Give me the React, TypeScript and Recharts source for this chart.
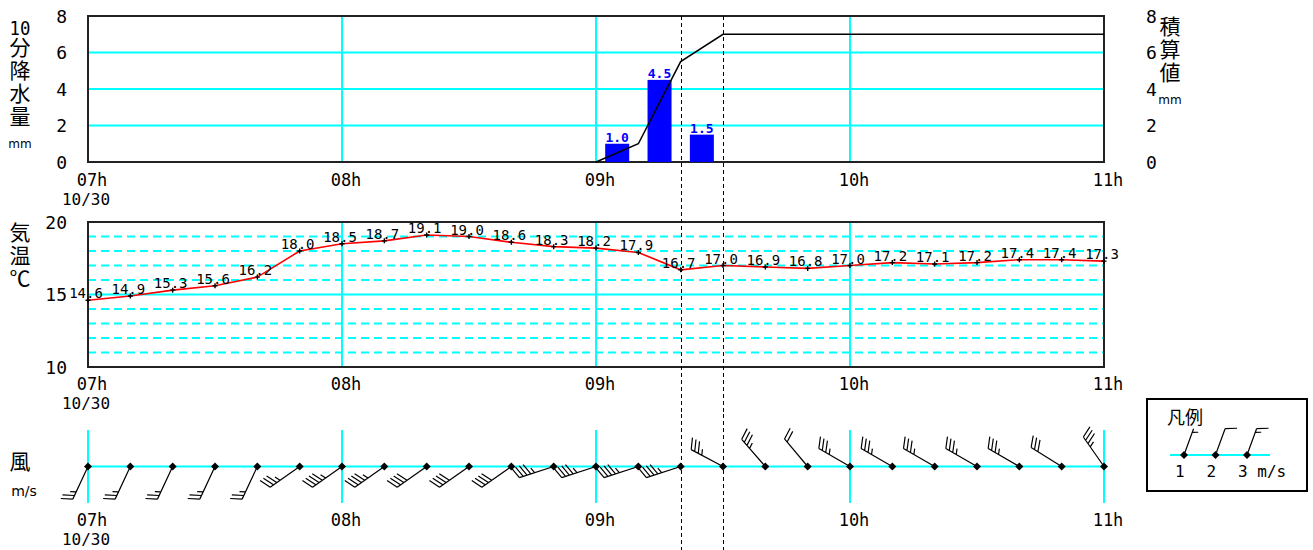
import React from 'react';
import {
  ComposedChart,
  Bar,
  Line,
  Scatter,
  XAxis,
  YAxis,
  CartesianGrid,
  ReferenceLine,
  ReferenceArea,
  LabelList,
} from 'recharts';

const MONO = '"DejaVu Sans Mono", monospace';
const SANS = '"DejaVu Sans", sans-serif';
const JP = '"Noto Sans CJK JP", sans-serif';
const CYAN = '#00ffff';

// time axis: minutes after 07:00
const hourTicks = [0, 60, 120, 180, 240];
const hourLabels = ['07h', '08h', '09h', '10h', '11h'];
const dateLabel = '10/30';
const times = [0, 10, 20, 30, 40, 50, 60, 70, 80, 90, 100, 110, 120, 130, 140, 150, 160, 170, 180, 190, 200, 210, 220, 230, 240];
const markTimes = [140, 150];

// 10-minute precipitation (drawn mid-interval) and accumulated total
const rainTimes = [125, 135, 145];
const rainValues = [1.0, 4.5, 1.5];
const cumulTimes = [120, 130, 140, 150, 160, 170, 180, 190, 200, 210, 220, 230, 240];
const cumulValues = [0, 1.0, 5.5, 7.0, 7.0, 7.0, 7.0, 7.0, 7.0, 7.0, 7.0, 7.0, 7.0];
const rainTicks = [0, 2, 4, 6, 8];

// temperature
const temps = [14.6, 14.9, 15.3, 15.6, 16.2, 18.0, 18.5, 18.7, 19.1, 19.0, 18.6, 18.3, 18.2, 17.9, 16.7, 17.0, 16.9, 16.8, 17.0, 17.2, 17.1, 17.2, 17.4, 17.4, 17.3];
const tempTicks = [10, 15, 20];
const tempMinor = [11, 12, 13, 14, 16, 17, 18, 19];

// wind (direction in degrees the wind blows from, speed m/s)
const windDir = [205, 205, 205, 205, 205, 235, 235, 235, 235, 235, 235, 252, 252, 252, 252, 298, 319, 320, 300, 300, 300, 300, 300, 302, 325];
const windSpeed = [5, 5, 5, 5, 5, 7, 9, 9, 8, 8, 8, 9, 9, 9, 9, 7, 7, 4, 7, 7, 7, 7, 7, 6, 7];
const legendSpeeds = [1, 2, 3];
const legendLabels = ['1', '2', '3 m/s'];

const rainData = [
  ...cumulTimes.map((t, i) => ({ t, cumul: cumulValues[i] })),
  ...rainTimes.map((t, i) => ({ t, rain: rainValues[i] })),
].sort((a, b) => a.t - b.t);

const tempData = times.map((t, i) => ({ t, temp: temps[i] }));
const windData = times.map((t, i) => ({ t, y: 0, dir: windDir[i], speed: windSpeed[i] }));

function barbPath(cx: number, cy: number, dir: number, speed: number, len: number) {
  const r = (dir * Math.PI) / 180;
  const ux = Math.sin(r);
  const uy = -Math.cos(r);
  const tx = cx + ux * len;
  const ty = cy + uy * len;
  const a = Math.atan2(uy, ux) + (68 * Math.PI) / 180;
  const fx = Math.cos(a);
  const fy = Math.sin(a);
  const longs = Math.floor(speed / 2);
  let d = `M${cx},${cy}L${tx},${ty}`;
  for (let k = 0; k < longs; k++) {
    const bx = tx - ux * k * 4;
    const by = ty - uy * k * 4;
    d += `M${bx},${by}l${fx * 12},${fy * 12}`;
  }
  if (speed % 2 === 1) {
    const k = longs === 0 ? 1 : longs;
    const bx = tx - ux * k * 4;
    const by = ty - uy * k * 4;
    d += `M${bx},${by}l${fx * 6},${fy * 6}`;
  }
  return d;
}

const diamond = (cx: number, cy: number) => `M${cx},${cy - 4}L${cx + 4},${cy}L${cx},${cy + 4}L${cx - 4},${cy}Z`;

const WindBarb = (p: any) => {
  const { cx, cy, payload } = p;
  if (cx == null || cy == null) return <g />;
  return (
    <g>
      <path d={barbPath(cx, cy, payload.dir, payload.speed, 36)} stroke="#000" strokeWidth={1.2} fill="none" />
      <path d={diamond(cx, cy)} fill="#000" />
    </g>
  );
};

const XTick = (p: any) => {
  const i = hourTicks.indexOf(p.payload.value);
  return (
    <g>
      <text x={p.x + 4} y={p.y + p.dy} textAnchor="middle" fontFamily={MONO} fontSize={17} fill="#000">
        {hourLabels[i]}
      </text>
      {i === 0 && (
        <text x={p.x - 2} y={p.y + p.dy + 19} textAnchor="middle" fontFamily={MONO} fontSize={16} fill="#000">
          {dateLabel}
        </text>
      )}
    </g>
  );
};

const LeftTick = (p: any) => (
  <text x={p.x - 21} y={p.y + 6.5} textAnchor="end" fontFamily={MONO} fontSize={18} fill="#000">
    {p.payload.value}
  </text>
);

const RightTick = (p: any) => (
  <text x={p.x + 42} y={p.y + 6.5} textAnchor="start" fontFamily={MONO} fontSize={18} fill="#000">
    {p.payload.value}
  </text>
);

const dashShape = (top: number | null, bottom: number) => (p: any) => {
  const x = Math.round(p.x1) + 0.5;
  const y1 = top == null ? Math.min(p.y1, p.y2) : top;
  return <line x1={x} x2={x} y1={y1} y2={bottom} stroke="#000" strokeWidth={1} strokeDasharray="4 3" />;
};

const RainLabel = (p: any) => {
  if (p.value == null) return null;
  return (
    <text x={p.x + p.width / 2} y={p.y - 2} textAnchor="middle" fontFamily={MONO} fontWeight="bold" fontSize={13} fill="#0000ff">
      {Number(p.value).toFixed(1)}
    </text>
  );
};

const TempLabel = (p: any) => {
  if (p.value == null) return null;
  return (
    <text x={p.x - 2} y={p.y - 2} textAnchor="middle" fontFamily={MONO} fontSize={14} fill="#000">
      {Number(p.value).toFixed(1)}
    </text>
  );
};

const TempDot = (p: any) => (
  <path key={p.index} d={`M${p.cx - 2.5},${p.cy}h5M${p.cx},${p.cy - 2.5}v5`} stroke="#000" strokeWidth={1.4} />
);

const RainBar = (p: any) => {
  if (p.payload == null || p.payload.rain == null) return <g />;
  const cx = p.x + p.width / 2;
  return <rect x={cx - 12} y={p.y} width={24} height={p.height} fill="#0000ff" />;
};

const axisCommon = { axisLine: false, tickLine: false, tickSize: 0, tickMargin: 0, interval: 0 as const };

// panel layout (page y): rain 0-212, temperature 212-414, wind 414-550
function RainChart() {
  return (
    <ComposedChart width={1313} height={212} data={rainData} margin={{ top: 16, right: 0, bottom: 0, left: 0 }}>
      <CartesianGrid yAxisId="left" stroke={CYAN} strokeWidth={2} />
      <XAxis dataKey="t" type="number" domain={[0, 240]} ticks={hourTicks} height={50} {...axisCommon} tick={(p: any) => <XTick {...p} dy={24} />} />
      <YAxis yAxisId="left" domain={[0, 8]} ticks={rainTicks} width={88} {...axisCommon} tick={LeftTick} />
      <YAxis yAxisId="right" orientation="right" domain={[0, 8]} ticks={rainTicks} width={209} {...axisCommon} tick={RightTick} />
      <Bar yAxisId="left" dataKey="rain" shape={RainBar} isAnimationActive={false}>
        <LabelList dataKey="rain" content={RainLabel} />
      </Bar>
      <Line yAxisId="right" dataKey="cumul" type="linear" stroke="#000" strokeWidth={1.5} dot={false} connectNulls isAnimationActive={false} />
      <ReferenceArea yAxisId="left" x1={0} x2={240} y1={0} y2={8} fill="none" stroke="#222" strokeWidth={2} />
      {markTimes.map((t) => (
        <ReferenceLine key={t} yAxisId="left" x={t} shape={dashShape(null, 212)} />
      ))}
    </ComposedChart>
  );
}

function TempChart() {
  return (
    <ComposedChart width={1313} height={202} data={tempData} margin={{ top: 10, right: 209, bottom: 0, left: 0 }}>
      <CartesianGrid horizontal vertical={false} horizontalValues={tempMinor} stroke={CYAN} strokeWidth={2} strokeDasharray="8 5" />
      <CartesianGrid horizontalValues={[15]} stroke={CYAN} strokeWidth={2} />
      <XAxis dataKey="t" type="number" domain={[0, 240]} ticks={hourTicks} height={47} {...axisCommon} tick={(p: any) => <XTick {...p} dy={23} />} />
      <YAxis domain={[10, 20]} ticks={tempTicks} width={88} {...axisCommon} tick={LeftTick} />
      <ReferenceArea x1={0} x2={240} y1={10} y2={20} fill="none" stroke="#222" strokeWidth={2} />
      <Line dataKey="temp" type="linear" stroke="#ff0000" strokeWidth={1.6} dot={TempDot} isAnimationActive={false}>
        <LabelList dataKey="temp" content={TempLabel} />
      </Line>
      {markTimes.map((t) => (
        <ReferenceLine key={t} x={t} shape={dashShape(0, 202)} />
      ))}
    </ComposedChart>
  );
}

function WindChart() {
  return (
    <ComposedChart width={1313} height={136} data={windData} margin={{ top: 16, right: 209, bottom: 0, left: 88 }}>
      <CartesianGrid horizontalValues={[0]} stroke={CYAN} strokeWidth={2} />
      <XAxis dataKey="t" type="number" domain={[0, 240]} ticks={hourTicks} height={47} {...axisCommon} tick={(p: any) => <XTick {...p} dy={23} />} />
      <YAxis dataKey="y" domain={[-1, 1]} hide />
      {markTimes.map((t) => (
        <ReferenceLine key={t} x={t} shape={dashShape(0, 136)} />
      ))}
      <Scatter dataKey="y" shape={WindBarb} isAnimationActive={false} />
    </ComposedChart>
  );
}

// vertical axis titles, written top to bottom as one column of text
const VTitle = ({ cx, top, children }: { cx: number; top: number; children: React.ReactNode }) => (
  <div
    style={{
      position: 'absolute',
      left: cx - 11,
      top,
      writingMode: 'vertical-rl',
      textOrientation: 'upright',
      fontFamily: JP,
      fontSize: 21,
      lineHeight: '22px',
      letterSpacing: 2,
      color: '#000',
      whiteSpace: 'nowrap',
    }}
  >
    {children}
  </div>
);

function Titles() {
  return (
    <>
      <VTitle cx={20} top={18}>
        <span style={{ textCombineUpright: 'all', fontSize: 19, fontFamily: MONO } as React.CSSProperties}>10</span>
        分降水量
      </VTitle>
      <VTitle cx={1170} top={16}>
        積算値
      </VTitle>
      <VTitle cx={20} top={222}>
        気温℃
      </VTitle>
      <svg width={1313} height={550} style={{ position: 'absolute', left: 0, top: 0, pointerEvents: 'none' }}>
        <text x={20} y={144} fontFamily={SANS} fontSize={12} textAnchor="middle" dominantBaseline="central">mm</text>
        <text x={1170} y={100} fontFamily={SANS} fontSize={12} textAnchor="middle" dominantBaseline="central">mm</text>
        <text x={20} y={460} fontFamily={JP} fontSize={21} textAnchor="middle" dominantBaseline="central">風</text>
        <text x={24} y={491} fontFamily={SANS} fontSize={14} textAnchor="middle" dominantBaseline="central">m/s</text>

        <rect x={1147} y={399} width={160} height={92} fill="#fff" stroke="#000" strokeWidth={2} />
        <text x={1185} y={416} fontFamily={JP} fontSize={18} textAnchor="middle" dominantBaseline="central">凡例</text>
        <line x1={1170} x2={1270} y1={455} y2={455} stroke={CYAN} strokeWidth={2} />
        {legendSpeeds.map((s, i) => {
          const cx = 1184 + i * 31.5;
          return (
            <g key={s}>
              <path d={barbPath(cx, 455, 20, s, 28)} stroke="#000" strokeWidth={1.2} fill="none" />
              <path d={diamond(cx, 455)} fill="#000" />
              <text x={cx - 9} y={471} fontFamily={MONO} fontSize={16} textAnchor="start" dominantBaseline="central">
                {legendLabels[i]}
              </text>
            </g>
          );
        })}
      </svg>
    </>
  );
}

export default function App() {
  return (
    <div style={{ position: 'absolute', left: 0, top: 0, width: 1313, height: 550, background: '#fff' }}>
      <div style={{ position: 'absolute', left: 0, top: 0 }}>
        <RainChart />
      </div>
      <div style={{ position: 'absolute', left: 0, top: 212 }}>
        <TempChart />
      </div>
      <div style={{ position: 'absolute', left: 0, top: 414 }}>
        <WindChart />
      </div>
      <Titles />
    </div>
  );
}
